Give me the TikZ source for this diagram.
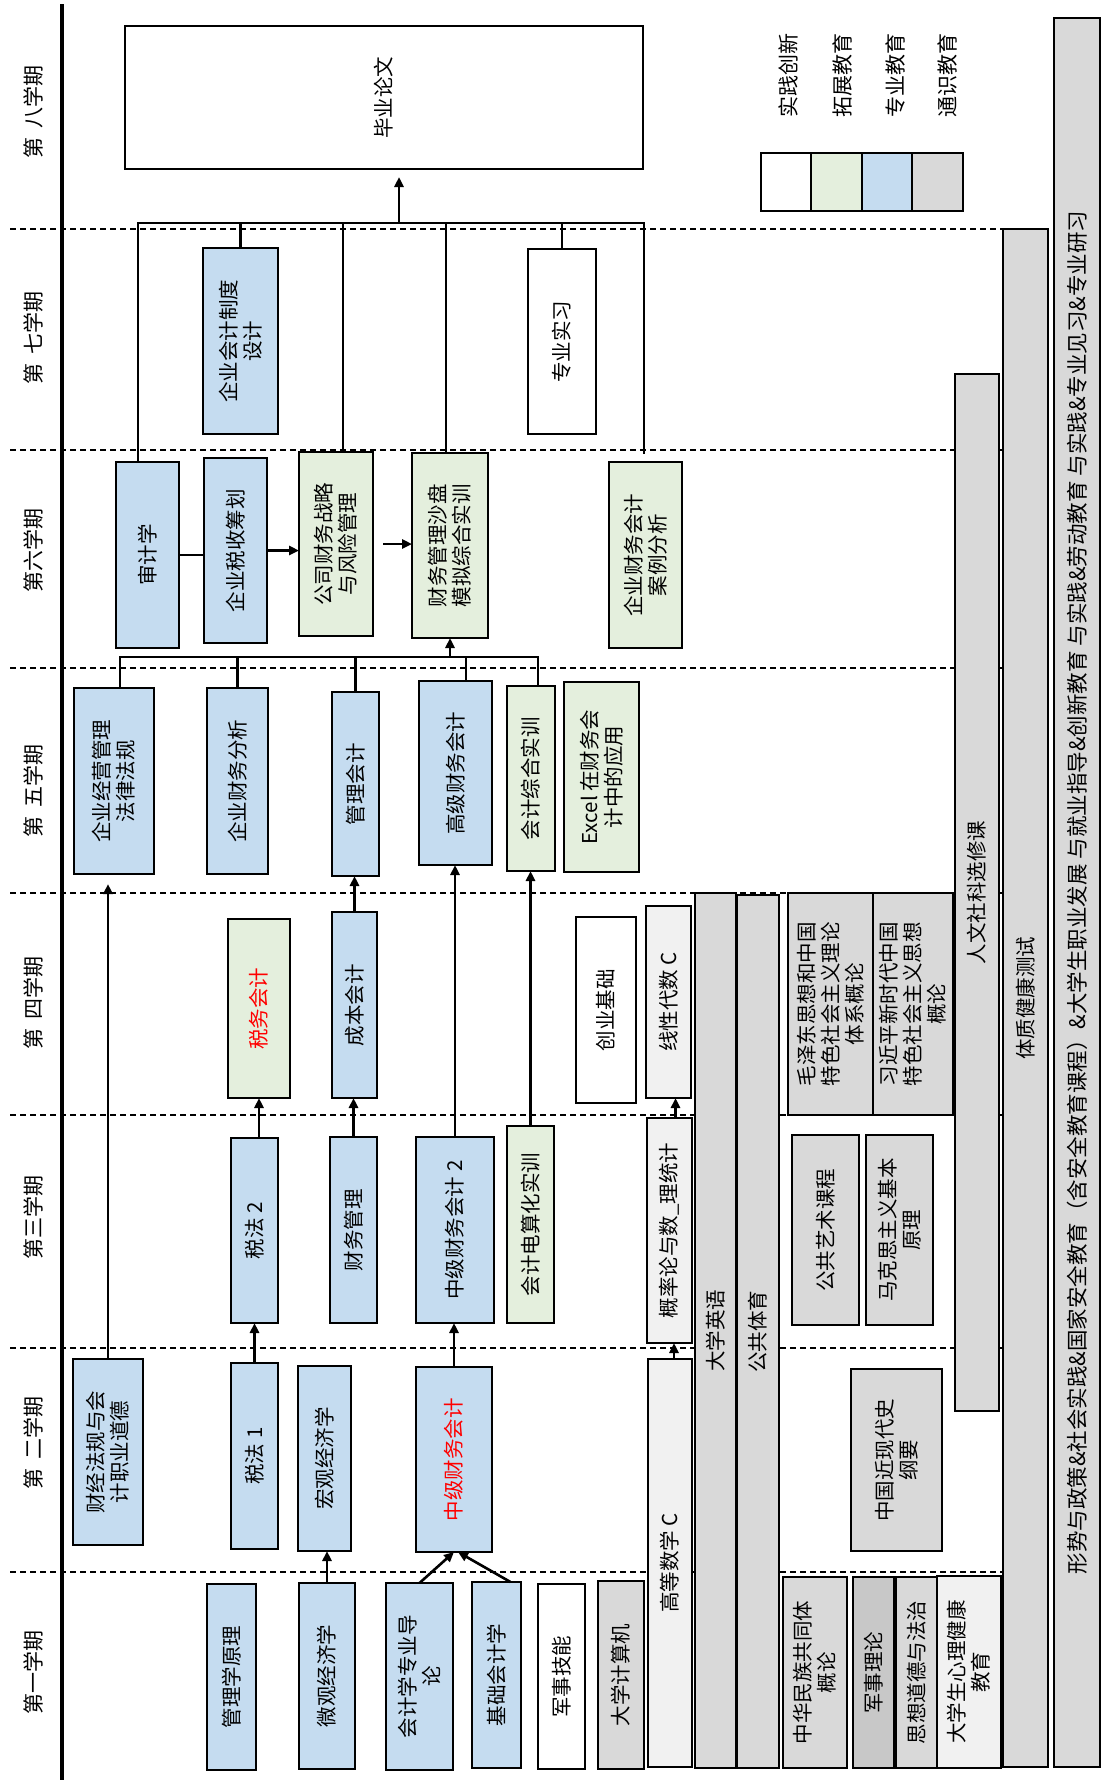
\documentclass[tikz,border=0pt]{standalone}
\usepackage{fontspec}
\setmainfont{Noto Sans CJK SC}
\usetikzlibrary{arrows.meta}
\definecolor{cblue}{RGB}{197,220,240}
\definecolor{cgreen}{RGB}{228,239,221}
\definecolor{cgray}{RGB}{217,217,217}
\definecolor{clgray}{RGB}{241,241,241}
\definecolor{cdgray}{RGB}{200,200,200}
\tikzset{
  box/.style={draw, line width=2.6pt, inner sep=0pt, outer sep=0pt},
  bluebox/.style={box, fill=cblue},
  greenbox/.style={box, fill=cgreen},
  whitebox/.style={box, fill=white},
  graybox/.style={box, fill=cgray},
  lgraybox/.style={box, fill=clgray},
  dgraybox/.style={box, fill=cdgray},
  txt/.style={font=\fontsize{20.5}{24}\selectfont, align=center, inner sep=0pt},
  bigtxt/.style={font=\fontsize{21.5}{25}\selectfont},
  semlbl/.style={rotate=90, font=\fontsize{21}{25}\selectfont, inner sep=0pt},
  conn/.style={line width=2.6pt, line cap=rect},
  arr/.style={line width=2.6pt, -{Triangle[length=10pt,width=9pt]}},
  semline/.style={line width=1.3pt, dash pattern=on 6pt off 4pt}
}
\newcommand\crsbox[7]{%
  \pgfmathsetmacro\crsW{#5-#3}%
  \pgfmathsetmacro\crsH{#6-#4}%
  \pgfmathsetmacro\crsX{(#3+#5)/2}%
  \pgfmathsetmacro\crsY{(#4+#6)/2}%
  \node[#2, minimum width=\crsW pt, minimum height=\crsH pt] (#1) at (\crsX,\crsY) {};%
  \node[txt, rotate=90] (#1-t) at (#1.center) {#7};%
}
\begin{document}
\begin{tikzpicture}[x=1pt, y=-1pt]
\useasboundingbox (0,0) rectangle (1102,1780);
\fill[white] (0,0) rectangle (1102,1780);

% semester separators
\foreach \yy in {229,450,668,893,1115,1348,1572}
  \draw[semline] (10,\yy) -- (1003,\yy);
\draw[line width=4.5pt] (62,4) -- (62,1780);

% semester labels
\node[semlbl] (s8) at (33,112) {第\hspace{0.4em}八学期};
\node[semlbl] (s7) at (33,338) {第\hspace{0.4em}七学期};
\node[semlbl] (s6) at (33,550) {第六学期};
\node[semlbl] (s5) at (33,791) {第\hspace{0.4em}五学期};
\node[semlbl] (s4) at (33,1003) {第\hspace{0.4em}四学期};
\node[semlbl] (s3) at (33,1217) {第三学期};
\node[semlbl] (s2) at (33,1443) {第\hspace{0.4em}二学期};
\node[semlbl] (s1) at (33,1672) {第一学期};

% legend
\node[whitebox, minimum width=50pt, minimum height=58pt] (lg1) at (786,182) {};
\node[greenbox, minimum width=51pt, minimum height=58pt] (lg2) at (836.5,182) {};
\node[bluebox, minimum width=50pt, minimum height=58pt] (lg3) at (887,182) {};
\node[graybox, minimum width=51pt, minimum height=58pt] (lg4) at (937.5,182) {};
\node[semlbl] (lt1) at (788,75) {实践创新};
\node[semlbl] (lt2) at (842,75) {拓展教育};
\node[semlbl] (lt3) at (895,75) {专业教育};
\node[semlbl] (lt4) at (947,75) {通识教育};

% long bars
\crsbox{dxyy}{graybox}{695}{893}{736}{1768}{大学英语}
\crsbox{ggty}{graybox}{737}{895}{779}{1768}{公共体育}
\crsbox{rwsk}{graybox}{955}{374}{999}{1411}{人文社科选修课}
\crsbox{tzjk}{graybox}{1003}{229}{1048}{1767}{体质健康测试}
\crsbox{xszc}{graybox}{1054}{18}{1100}{1767}{\fontsize{21.5}{25}\selectfont 形势与政策\&社会实践\&国家安全教育（含安全教育课程）\&大学生职业发展 与就业指导\&创新教育 与实践\&劳动教育 与实践\&专业见习\&专业研习}

% semester 8
\crsbox{lw}{whitebox}{125}{26}{643}{169}{毕业论文}
% semester 7
\crsbox{qkzd}{bluebox}{203}{248}{278}{434}{企业会计制度\\设计}
\crsbox{zysx}{whitebox}{528}{249}{596}{434}{专业实习}
% semester 6
\crsbox{sjx}{bluebox}{116}{462}{179}{648}{审计学}
\crsbox{ssch}{bluebox}{204}{458}{267}{643}{企业税收筹划}
\crsbox{gszl}{greenbox}{299}{452}{373}{636}{公司财务战略\\与风险管理}
\crsbox{sp}{greenbox}{412}{453}{488}{638}{财务管理沙盘\\模拟综合实训}
\crsbox{alfx}{greenbox}{609}{462}{682}{648}{企业财务会计\\案例分析}
% semester 5
\crsbox{jyfg}{bluebox}{74}{688}{154}{874}{企业经营管理\\法律法规}
\crsbox{cwfx}{bluebox}{207}{688}{268}{874}{企业财务分析}
\crsbox{glkj}{bluebox}{332}{692}{379}{876}{管理会计}
\crsbox{gjcw}{bluebox}{419}{681}{492}{865}{高级财务会计}
\crsbox{zhsx}{greenbox}{507}{686}{555}{871}{会计综合实训}
\crsbox{excel}{greenbox}{564}{682}{639}{872}{Excel 在财务会\\计中的应用}
% semester 4
\crsbox{swkj}{greenbox}{228}{919}{290}{1098}{\textcolor{red}{税务会计}}
\crsbox{cbkj}{bluebox}{332}{912}{377}{1098}{成本会计}
\crsbox{cyjc}{whitebox}{576}{917}{636}{1103}{创业基础}
\crsbox{xxds}{lgraybox}{646}{906}{691}{1098}{线性代数 C}
\crsbox{mzd}{graybox}{788}{893}{873}{1115}{毛泽东思想和中国\\特色社会主义理论\\体系概论}
\crsbox{xjp}{graybox}{873}{893}{953}{1115}{习近平新时代中国\\特色社会主义思想\\概论}
% semester 3
\crsbox{sf2}{bluebox}{231}{1138}{278}{1323}{税法 2}
\crsbox{cwgl}{bluebox}{330}{1137}{377}{1323}{财务管理}
\crsbox{zj2}{bluebox}{416}{1137}{494}{1323}{中级财务会计 2}
\crsbox{dsh}{greenbox}{507}{1126}{554}{1323}{会计电算化实训}
\crsbox{gll}{lgraybox}{647}{1118}{692}{1343}{概率论与数\_理统计}
\crsbox{ysk}{graybox}{792}{1135}{859}{1325}{公共艺术课程}
\crsbox{mks}{graybox}{866}{1135}{933}{1325}{马克思主义基本\\原理}
% semester 2
\crsbox{cjfg}{bluebox}{73}{1359}{143}{1545}{财经法规与会\\计职业道德}
\crsbox{sf1}{bluebox}{231}{1363}{278}{1549}{税法 1}
\crsbox{hgjj}{bluebox}{298}{1366}{351}{1551}{宏观经济学}
\crsbox{zjcw}{bluebox}{416}{1367}{492}{1552}{\textcolor{red}{中级财务会计}}
\crsbox{gdsx}{lgraybox}{648}{1359}{692}{1767}{高等数学 C}
\crsbox{jxds}{graybox}{851}{1369}{942}{1551}{中国近现代史\\纲要}
% semester 1
\crsbox{glx}{bluebox}{207}{1584}{256}{1770}{管理学原理}
\crsbox{wgjj}{bluebox}{299}{1583}{355}{1769}{微观经济学}
\crsbox{dl}{bluebox}{386}{1583}{453}{1770}{会计学专业导\\论}
\crsbox{jckj}{bluebox}{472}{1582}{521}{1768}{基础会计学}
\crsbox{jsjn}{whitebox}{538}{1584}{585}{1769}{军事技能}
\crsbox{dxjsj}{graybox}{598}{1581}{644}{1769}{大学计算机}
\crsbox{zhmz}{graybox}{783}{1577}{847}{1768}{中华民族共同体\\概论}
\crsbox{jsll}{dgraybox}{853}{1577}{894}{1768}{军事理论}
\crsbox{sxdd}{graybox}{896}{1577}{937}{1768}{思想道德与法治}
\crsbox{xlk}{lgraybox}{937}{1576}{1001}{1768}{大学生心理健康\\教育}

% semester 8 bus
\coordinate (b8L) at (138,223);
\coordinate (b8R) at (644,223);
\coordinate (b8A) at (399,223);
\coordinate (b8c) at (343,223);
\coordinate (b8d) at (446,223);
\draw[conn] (b8L) -- (b8R);
\draw[arr, shorten >=8pt] (b8A) -- (b8A |- lw.south);
\draw[conn] (b8L) -- (b8L |- sjx.north);
\draw[conn] (qkzd.north |- b8L) -- (qkzd.north);
\draw[conn] (b8c) -- (b8c |- gszl.north);
\draw[conn] (b8d) -- (b8d |- sp.north);
\draw[conn] (zysx.north |- b8L) -- (zysx.north);
\draw[conn, shorten >=9pt] (b8R) -- (b8R |- alfx.north);

% semester 6 links
\draw[conn] (sjx.east) -- (sjx.east -| ssch.west);
\draw[arr] (ssch.east) -- (ssch.east -| gszl.west);
\draw[arr, shorten <=10pt] (gszl.east) -- (gszl.east -| sp.west);

% semester 5 bus
\coordinate (b5L) at (120,657);
\coordinate (b5R) at (538,657);
\coordinate (b5d) at (466,657);
\draw[conn] (b5L) -- (b5R);
\draw[arr] (sp.south |- b5L) -- (sp.south);
\draw[conn] (b5L) -- (b5L |- jyfg.north);
\draw[conn] (cwfx.north |- b5L) -- (cwfx.north);
\draw[conn] (glkj.north |- b5L) -- (glkj.north);
\draw[conn] (b5d) -- (b5d |- gjcw.north);
\draw[conn] (b5R) -- (b5R |- zhsx.north);

% prerequisite arrows
\coordinate (glTop) at ([xshift=6pt]gll.north);
\coordinate (gdTop) at ([xshift=4pt]gdsx.north);
\coordinate (jcTop) at ([xshift=14pt]jckj.north);
\coordinate (zjBot) at ([xshift=4pt]zjcw.south);
\draw[arr, shorten >=10pt] (cjfg.north) -- (cjfg.north |- jyfg.south);
\draw[arr] (swkj.south |- sf2.north) -- (swkj.south);
\draw[arr] (cwgl.north) -- (cwgl.north |- cbkj.south);
\draw[arr] (cbkj.north) -- (cbkj.north |- glkj.south);
\draw[arr] (zj2.north) -- (zj2.north |- gjcw.south);
\draw[arr] (dsh.north) -- (dsh.north |- zhsx.south);
\draw[arr] (glTop) -- (glTop |- xxds.south);
\draw[arr] (gdTop) -- (gdTop |- gll.south);
\draw[arr] (sf1.north) -- (sf1.north |- sf2.south);
\draw[arr] (zjcw.north) -- (zjcw.north |- zj2.south);
\draw[arr] (wgjj.north) -- (wgjj.north |- hgjj.south);
\draw[arr] (dl.north) -- (zjcw.south);
\draw[arr] (jcTop) -- (zjBot);
\end{tikzpicture}
\end{document}
